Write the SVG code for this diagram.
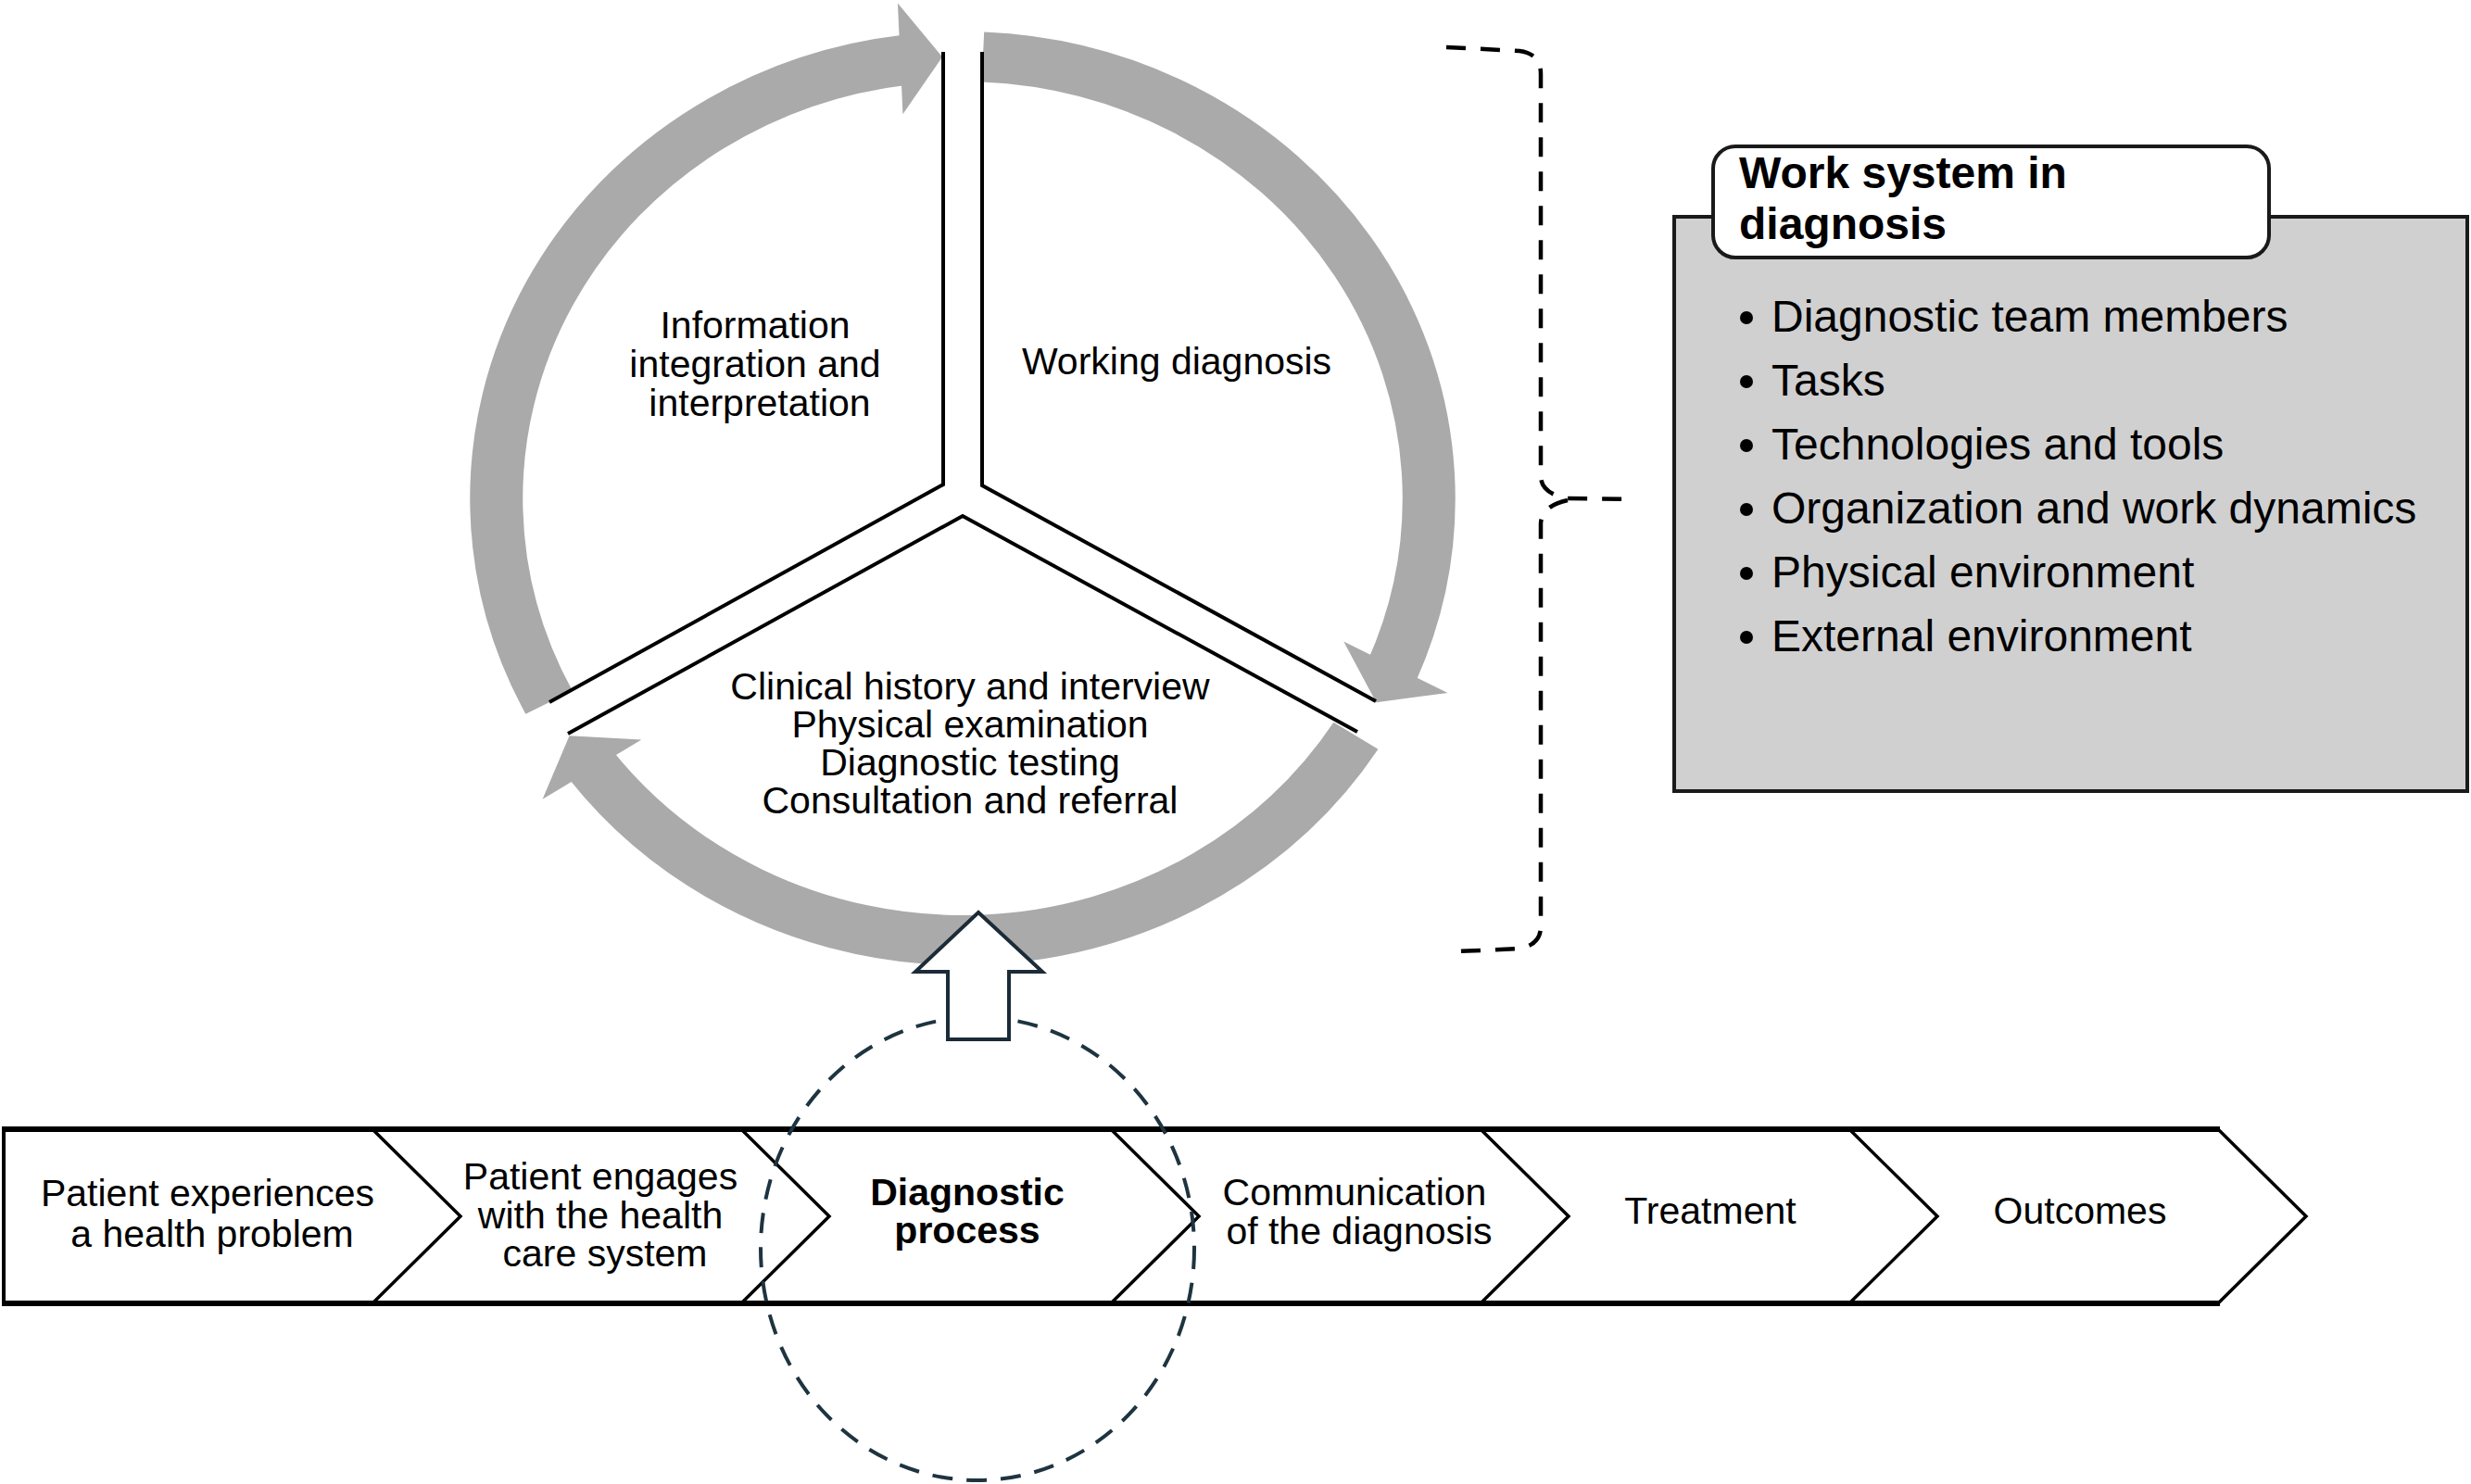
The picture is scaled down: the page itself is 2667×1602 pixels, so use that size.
<svg xmlns="http://www.w3.org/2000/svg" width="2667" height="1602" viewBox="0 0 2667 1602">
<style>
.t{font-family:"Liberation Sans",Arial,Helvetica,sans-serif;font-size:41px;fill:#000;text-anchor:middle}
.b{font-weight:bold}
.it{font-family:"Liberation Sans",Arial,Helvetica,sans-serif;font-size:48px;fill:#000}
.ring{fill:none;stroke:#aaaaaa;stroke-width:54;stroke-linecap:butt}
.head{fill:#aaaaaa;stroke:none}
.div{fill:none;stroke:#000;stroke-width:4;stroke-linejoin:miter}
.chev{fill:none;stroke:#000;stroke-width:3.5;stroke-linejoin:miter}
.dash{fill:none;stroke:#000;stroke-width:4.5;stroke-dasharray:21 16}
</style>
<rect width="2667" height="1602" fill="#fff"/>

<g id="cycle">
  <g transform="translate(1039,538) scale(1.055,1)">
    <path class="ring" d="M -423.1 220.3 A 477 477 0 0 1 -58.1 -473.4"/>
    <polygon class="head" points="-20.8,-476.5 -66.4,-534.5 -61.2,-414.7"/>
    <path class="ring" d="M 20.8 -476.5 A 477 477 0 0 1 439.1 186.4"/>
    <polygon class="head" points="423.1,220.3 389.8,154.5 496.2,209.9"/>
    <path class="ring" d="M 402.3 256.3 A 477 477 0 0 1 -380.9 287.1"/>
    <polygon class="head" points="-402.3,256.3 -429.8,324.8 -328.6,260.4"/>
  </g>
  <polyline class="div" points="1018,56 1018,523 593,758"/>
  <polyline class="div" points="1060,56 1060,524 1485,757"/>
  <polyline class="div" points="613,792 1039,557 1465,790"/>
</g>

<g id="sector-information">
  <text class="t" x="815" y="365">Information</text>
  <text class="t" x="815" y="407">integration and</text>
  <text class="t" x="820" y="449">interpretation</text>
</g>
<g id="sector-working">
  <text class="t" x="1270" y="404">Working diagnosis</text>
</g>
<g id="sector-gathering">
  <text class="t" x="1047" y="755">Clinical history and interview</text>
  <text class="t" x="1047" y="796">Physical examination</text>
  <text class="t" x="1047" y="837">Diagnostic testing</text>
  <text class="t" x="1047" y="878">Consultation and referral</text>
</g>

<g id="process-row">
  <rect x="4" y="1219" width="2390" height="188" fill="#fff"/>
  <polygon points="2394,1219 2489,1313 2394,1407" fill="#fff"/>
  <line x1="2" y1="1219" x2="2396" y2="1219" stroke="#000" stroke-width="6"/>
  <line x1="2" y1="1407" x2="2396" y2="1407" stroke="#000" stroke-width="6"/>
  <line x1="4" y1="1219" x2="4" y2="1407" stroke="#000" stroke-width="4"/>
  <polyline class="chev" points="402,1219 497,1313 402,1407"/>
  <polyline class="chev" points="800,1219 895,1313 800,1407"/>
  <polyline class="chev" points="1199,1219 1294,1313 1199,1407"/>
  <polyline class="chev" points="1598,1219 1693,1313 1598,1407"/>
  <polyline class="chev" points="1996,1219 2091,1313 1996,1407"/>
  <polyline class="chev" points="2394,1219 2489,1313 2394,1407"/>
</g>
<g id="step-1">
  <text class="t" x="224" y="1302">Patient experiences</text>
  <text class="t" x="229" y="1346">a health problem</text>
</g>
<g id="step-2">
  <text class="t" x="648" y="1284">Patient engages</text>
  <text class="t" x="648" y="1326">with the health</text>
  <text class="t" x="653" y="1367">care system</text>
</g>
<g id="step-3">
  <text class="t b" x="1044" y="1301">Diagnostic</text>
  <text class="t b" x="1044" y="1342">process</text>
</g>
<g id="step-4">
  <text class="t" x="1462" y="1301">Communication</text>
  <text class="t" x="1467" y="1343">of the diagnosis</text>
</g>
<g id="step-5">
  <text class="t" x="1846" y="1321">Treatment</text>
</g>
<g id="step-6">
  <text class="t" x="2245" y="1321">Outcomes</text>
</g>

<g id="connectors">
  <ellipse cx="1055" cy="1348" rx="234" ry="250" fill="none" stroke="#1e3440" stroke-width="4" stroke-dasharray="22 15"/>
  <polygon points="1056,985 1125,1049 1089,1049 1089,1122 1023,1122 1023,1049 988,1049" fill="#fff" stroke="#1b2b38" stroke-width="4" stroke-linejoin="miter"/>
  <path class="dash" d="M1561 51 L1640 55 Q1663 58 1663 80 L1663 515 Q1664 533 1692 538 L1763 539"/>
  <path class="dash" d="M1692 540 Q1664 546 1663 565 L1663 1000 Q1663 1020 1640 1024 L1573 1027"/>
</g>

<g id="work-system">
  <rect x="1807" y="234" width="856" height="620" fill="#d0d0d0" stroke="#1a1a1a" stroke-width="4"/>
  <rect x="1849" y="158" width="600" height="120" rx="24" ry="24" fill="#fff" stroke="#1a1a1a" stroke-width="4"/>
  <text class="it b" x="1877" y="203" font-size="47">Work system in</text>
  <text class="it b" x="1877" y="258" font-size="47">diagnosis</text>
  <circle cx="1885" cy="343" r="7" fill="#000"/>
  <text class="it" x="1912" y="358">Diagnostic team members</text>
  <circle cx="1885" cy="412" r="7" fill="#000"/>
  <text class="it" x="1912" y="427">Tasks</text>
  <circle cx="1885" cy="481" r="7" fill="#000"/>
  <text class="it" x="1912" y="496">Technologies and tools</text>
  <circle cx="1885" cy="550" r="7" fill="#000"/>
  <text class="it" x="1912" y="565">Organization and work dynamics</text>
  <circle cx="1885" cy="619" r="7" fill="#000"/>
  <text class="it" x="1912" y="634">Physical environment</text>
  <circle cx="1885" cy="688" r="7" fill="#000"/>
  <text class="it" x="1912" y="703">External environment</text>
</g>
</svg>
